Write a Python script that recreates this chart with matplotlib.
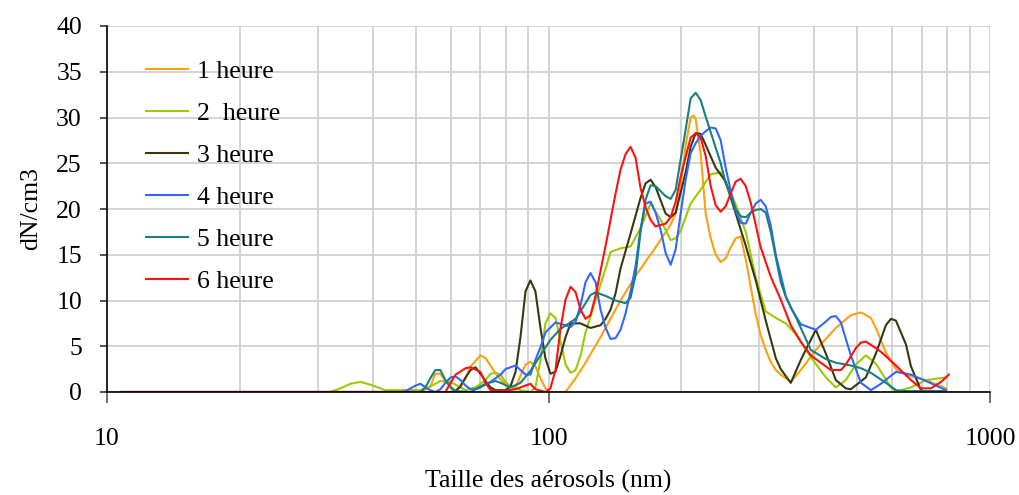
import matplotlib
matplotlib.use("Agg")
import matplotlib.pyplot as plt
from matplotlib.ticker import FixedLocator, FixedFormatter, NullFormatter, LogLocator

plt.rcParams['font.family'] = ['Liberation Serif', 'DejaVu Serif']

labels = ["1 heure", "2  heure", "3 heure", "4 heure", "5 heure", "6 heure"]
colors = ["#FF9E0F", "#99CC00", "#38380F", "#3366FF", "#168080", "#FF1010"]

# 1 heure
d1 = [10.8, 51.3, 54.0, 55.4, 56.9, 58.4, 61.6, 64.9, 66.6, 70.1, 72.0, 73.9, 75.9, 79.9, 84.2,
      86.4, 88.7, 91.0, 93.4, 95.9, 98.4, 101.0, 109.3, 115.2, 121.3, 131.2, 145.6, 157.5, 174.8,
      189.1, 194.1, 199.2, 204.5, 209.9, 213.3, 215.5, 221.1, 227.0, 233.0, 239.2, 245.5, 252.0,
      258.6, 265.5, 272.5, 279.7, 287.1, 294.7, 302.5, 310.5, 318.7, 327.2, 335.8, 353.8, 372.8,
      403.2, 424.8, 447.5, 484.0, 510.0, 537.3, 551.5, 581.1, 612.3, 645.1, 716.1, 794.9]
n1 = [0, 0, 0.6, 2.0, 2.0, 1.2, 0.1, 1.5, 2.8, 4.0, 3.7, 2.9, 2.0, 0.8, 0.4,
      1.8, 3.0, 3.3, 2.8, 1.5, 0.4, 0, 0, 1.5, 3.2, 6.0, 10.0, 12.7, 15.8,
      18.3, 19.5, 22.5, 27.0, 30.0, 30.2, 29.8, 26.0, 19.5, 16.8, 15.0, 14.2, 14.6,
      15.8, 16.8, 17.0, 14.5, 11.5, 8.5, 6.2, 4.6, 3.3, 2.4, 1.9, 1.1, 2.4,
      4.6, 5.8, 7.0, 8.4, 8.7, 8.1, 7.0, 4.3, 2.5, 1.9, 1.3, 0.4]

# 2 heure
d2 = [10.8, 32.0, 33.8, 35.6, 37.5, 39.5, 41.6, 42.7, 51.3, 54.0, 56.9, 60.0, 63.2, 64.9, 68.3,
      72.0, 73.9, 75.9, 77.9, 79.9, 82.0, 86.4, 91.0, 93.4, 95.9, 98.4, 101.0, 103.7, 106.5,
      109.3, 112.2, 115.2, 118.2, 121.3, 127.8, 134.7, 138.2, 145.6, 153.4, 161.6, 170.3, 179.5,
      189.1, 194.1, 199.2, 209.9, 221.1, 233.0, 245.5, 252.0, 265.5, 279.7, 294.7, 310.5, 327.2,
      344.7, 363.2, 392.8, 424.8, 447.5, 471.5, 496.8, 523.5, 551.5, 596.5, 612.3, 662.2, 716.1, 794.9]
n2 = [0, 0, 0.4, 0.9, 1.1, 0.8, 0.4, 0.2, 0.2, 0.6, 1.2, 1.1, 0.5, 0.2, 0.5,
      1.3, 2.0, 2.1, 1.9, 1.1, 0.6, 0.2, 0, 0.5, 3.5, 7.5, 8.6, 8.1, 5.5,
      3.0, 2.1, 2.4, 4.0, 6.5, 10.0, 13.5, 15.3, 15.7, 15.9, 17.9, 20.6, 18.8,
      16.6, 16.8, 17.6, 20.6, 22.1, 23.8, 24.0, 22.9, 20.5, 17.5, 12.5, 8.8, 8.1,
      7.5, 6.3, 3.8, 1.6, 0.5, 1.3, 3.0, 4.0, 3.1, 0.5, 0.05, 0.5, 1.3, 1.6]

# 3 heure
d3 = [10.8, 60.0, 61.6, 63.2, 64.9, 66.6, 68.3, 70.1, 72.0, 73.9, 75.9, 79.9, 82.0, 84.2, 86.4,
      88.7, 91.0, 93.4, 95.9, 98.4, 101.0, 103.7, 106.5, 109.3, 112.2, 118.2, 124.5, 131.2, 134.7,
      138.2, 141.9, 145.6, 153.4, 161.6, 165.9, 170.3, 174.8, 184.2, 189.1, 194.1, 204.5, 209.9,
      215.5, 221.1, 227.0, 239.2, 252.0, 265.5, 279.7, 294.7, 310.5, 327.2, 335.8, 353.8, 372.8,
      403.2, 424.8, 447.5, 471.5, 484.0, 523.5, 551.5, 581.1, 596.5, 612.3, 645.1, 662.2, 697.6,
      716.1, 794.9]
n3 = [0, 0, 0.1, 0.6, 1.6, 2.4, 2.7, 2.0, 1.2, 0.5, 0.2, 0.2, 0.6, 2.2, 6.0,
      11.0, 12.2, 11.0, 7.0, 3.7, 2.0, 2.2, 4.0, 6.0, 7.5, 7.5, 7.0, 7.3, 8.0,
      9.0, 10.8, 13.5, 17.3, 21.2, 22.8, 23.2, 22.4, 19.5, 19.1, 19.6, 24.0, 26.8,
      28.3, 28.2, 27.0, 24.5, 23.0, 19.5, 16.0, 12.2, 7.8, 3.7, 2.5, 1.0, 3.5,
      6.8, 4.2, 1.3, 0.4, 0.3, 1.6, 4.2, 7.3, 8.0, 7.8, 5.2, 2.8, 0.2,
      0, 0.1]

# 4 heure
d4 = [10.8, 46.2, 47.4, 48.7, 50.0, 51.3, 52.6, 54.0, 55.4, 56.9, 58.4, 60.0, 61.6, 63.2, 64.9,
      66.6, 68.3, 70.1, 73.9, 77.9, 79.9, 84.2, 86.4, 88.7, 91.0, 93.4, 95.9, 98.4, 103.7,
      109.3, 112.2, 115.2, 118.2, 121.3, 124.5, 127.8, 131.2, 134.7, 138.2, 141.9, 145.6, 149.5,
      153.4, 157.5, 161.6, 165.9, 170.3, 174.8, 179.5, 184.2, 189.1, 194.1, 199.2, 204.5, 209.9,
      215.5, 221.1, 227.0, 233.0, 239.2, 245.5, 252.0, 258.6, 265.5, 272.5, 279.7, 287.1, 294.7,
      302.5, 310.5, 318.7, 327.2, 344.7, 353.8, 372.8, 392.8, 403.2, 424.8, 436.0, 447.5, 459.4,
      484.0, 510.0, 537.3, 566.1, 612.3, 662.2, 716.1, 794.9]
n4 = [0, 0, 0.1, 0.4, 0.7, 0.9, 0.5, 0.2, 0.0, 0.3, 1.0, 1.6, 1.7, 1.3, 0.7,
      0.3, 0.3, 0.5, 1.1, 1.9, 2.5, 2.9, 2.4, 1.9, 1.9, 3.5, 4.9, 6.5, 7.6,
      7.3, 7.1, 7.7, 9.5, 12.0, 13.0, 12.0, 9.0, 7.0, 5.8, 5.9, 6.8, 8.6,
      11.0, 13.8, 17.8, 20.6, 20.8, 19.6, 17.7, 15.2, 13.9, 15.6, 19.5, 23.2, 26.1,
      27.2, 28.0, 28.5, 28.9, 28.8, 27.5, 24.5, 22.0, 19.8, 18.5, 18.4, 19.6, 20.6,
      21.0, 20.3, 18.2, 15.0, 10.5, 9.2, 7.4, 7.0, 6.8, 7.7, 8.2, 8.3, 7.6,
      4.0, 1.0, 0.2, 0.9, 2.2, 1.9, 1.2, 0.2]

# 5 heure
d5 = [10.8, 51.3, 52.6, 54.0, 55.4, 56.9, 58.4, 60.0, 61.6, 66.6, 68.3, 72.0, 75.9, 77.9, 82.0,
      86.4, 91.0, 95.9, 101.0, 106.5, 115.2, 121.3, 124.5, 127.8, 134.7, 141.9, 149.5, 153.4,
      157.5, 161.6, 165.9, 170.3, 174.8, 184.2, 189.1, 194.1, 199.2, 204.5, 209.9, 215.5, 221.1,
      227.0, 233.0, 245.5, 252.0, 265.5, 272.5, 279.7, 287.1, 294.7, 302.5, 310.5, 318.7, 335.8,
      344.7, 363.2, 372.8, 392.8, 424.8, 447.5, 484.0, 510.0, 537.3, 581.1, 612.3, 645.1, 794.9]
n5 = [0, 0, 0.5, 1.5, 2.4, 2.4, 1.3, 0.5, 0.1, 0, 0.3, 0.9, 1.2, 1.0, 0.5,
      1.0, 2.3, 4.0, 5.7, 6.9, 8.0, 9.7, 10.6, 10.9, 10.5, 10.0, 9.7, 10.3,
      12.8, 17.5, 21.0, 22.6, 22.5, 21.4, 21.1, 22.1, 25.4, 28.7, 32.1, 32.7, 31.9,
      30.1, 28.4, 25.0, 22.8, 20.0, 19.2, 19.1, 19.6, 19.9, 20.0, 19.6, 17.5, 12.0,
      10.4, 8.2, 7.0, 4.6, 3.6, 3.2, 2.9, 2.6, 2.1, 1.0, 0.2, 0.1, 0.1]

# 6 heure
d6 = [10.8, 58.4, 60.0, 61.6, 64.9, 66.6, 70.1, 72.0, 73.9, 77.9, 84.2, 86.4, 91.0, 93.4, 98.4,
      101.0, 103.7, 106.5, 109.3, 112.2, 115.2, 118.2, 121.3, 124.5, 127.8, 134.7, 138.2, 141.9,
      145.6, 149.5, 153.4, 157.5, 161.6, 165.9, 170.3, 174.8, 184.2, 189.1, 194.1, 199.2, 204.5,
      209.9, 215.5, 221.1, 227.0, 233.0, 239.2, 245.5, 252.0, 258.6, 265.5, 272.5, 279.7, 287.1,
      302.5, 318.7, 335.8, 353.8, 372.8, 392.8, 424.8, 436.0, 459.4, 471.5, 496.8, 510.0, 523.5,
      551.5, 566.1, 612.3, 662.2, 697.6, 735.0, 774.4, 807.0]
n6 = [0, 0, 1.0, 1.9, 2.6, 2.7, 2.2, 1.0, 0.2, 0.1, 0.3, 0.5, 0.9, 0.3, 0,
      0.4, 2.4, 7.0, 10.1, 11.5, 10.9, 9.0, 8.0, 8.4, 10.5, 16.0, 18.8, 21.7,
      24.3, 26.0, 26.8, 25.6, 22.3, 20.2, 18.8, 18.1, 18.4, 19.1, 20.8, 23.5, 25.7,
      27.8, 28.3, 27.8, 25.8, 22.5, 20.4, 19.7, 20.3, 21.7, 23.0, 23.3, 22.5, 20.7,
      15.8, 12.6, 10.1, 7.3, 5.5, 4.0, 2.8, 2.4, 2.4, 3.0, 4.8, 5.4, 5.5,
      4.8, 4.4, 2.9, 1.3, 0.4, 0.4, 1.1, 1.9]

xs = [d1, d2, d3, d4, d5, d6]
ys = [n1, n2, n3, n4, n5, n6]

x_ticks = [10, 100, 1000]
x_ticklabels = ["10", "100", "1000"]
y_ticks = [0, 5, 10, 15, 20, 25, 30, 35, 40]

FS = 18.5
fig = plt.figure(figsize=(10.2, 4.95), dpi=100)
ax = fig.add_axes([107 / 1020, 1 - 392 / 495, 883 / 1020, 366 / 495])

for x, y, c, lab in zip(xs, ys, colors, labels):
    ax.plot(x, y, color=c, lw=1.5, label=lab, solid_joinstyle='round', zorder=3)

ax.set_xscale('log')
ax.set_xlim(10, 1000)
ax.set_ylim(0, 40)
ax.xaxis.set_major_locator(FixedLocator(x_ticks))
ax.xaxis.set_major_formatter(FixedFormatter(x_ticklabels))
ax.xaxis.set_minor_locator(LogLocator(base=10, subs=range(2, 10)))
ax.xaxis.set_minor_formatter(NullFormatter())
ax.set_yticks(y_ticks)

ax.grid(True, which='both', color='#d0d0d0', lw=1.3, zorder=0)
ax.set_axisbelow(True)

for s in ['top', 'right']:
    ax.spines[s].set_visible(False)
for s in ['left', 'bottom']:
    ax.spines[s].set_color('black')
    ax.spines[s].set_linewidth(1.2)
    ax.spines[s].set_zorder(4)

ax.tick_params(axis='x', which='major', direction='out', length=8, width=1.2,
               color='#555555', pad=18, labelsize=FS)
ax.tick_params(axis='x', which='minor', length=0)
ax.tick_params(axis='y', which='major', direction='out', length=5, width=1.2,
               color='#333333', pad=13, labelsize=FS)

ax.set_xlabel("Taille des aérosols (nm)", fontsize=FS, labelpad=14)
ax.set_ylabel("dN/cm3", fontsize=FS, labelpad=10)

leg = ax.legend(loc='upper left', bbox_to_anchor=(0.032, 0.934), frameon=False,
                fontsize=FS, handlelength=1.65, handletextpad=0.35,
                labelspacing=0.74, borderaxespad=0)

fig.savefig("out.png", dpi=100)
